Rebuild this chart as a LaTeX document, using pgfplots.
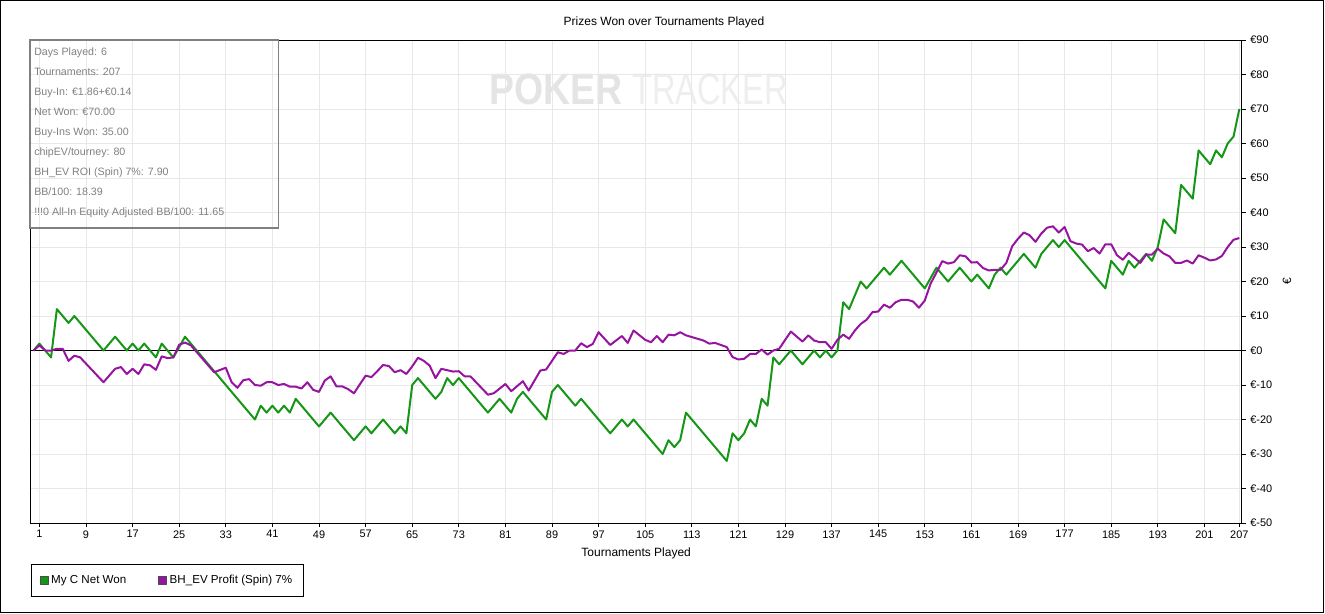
\documentclass[border=0pt]{standalone}
\usepackage{fontspec}
\setmainfont{Liberation Sans}
\usepackage{pgfplots}
\pgfplotsset{compat=1.18}
\definecolor{netgreen}{RGB}{22,150,22}
\definecolor{evpurple}{RGB}{150,20,160}
\definecolor{gridgray}{RGB}{232,232,232}
\definecolor{boxgray}{RGB}{128,128,128}
\definecolor{txtgray}{RGB}{128,128,128}
\definecolor{wmA}{RGB}{228,228,228}
\definecolor{wmB}{RGB}{238,238,238}
\begin{document}
\begin{tikzpicture}
\path[use as bounding box] (0,0) rectangle (993.75pt,-460.5pt);
\begin{scope}[x=0.75pt,y=-0.75pt]
\draw[black, line width=0.9pt] (0.6,0.6) rectangle (1323.4,612.6);
\node[font=\fontsize{9}{10}\selectfont] at (664,22.5) {Prizes Won over Tournaments Played};
\node[font=\fontsize{33}{36}\selectfont\bfseries, text=wmA, xscale=0.85, anchor=east, inner sep=0] at (623,89) {POKER};
\node[font=\fontsize{33}{36}\selectfont, text=wmB, xscale=0.74, anchor=west, inner sep=0] at (632,89) {TRACKER};
\end{scope}
\begin{axis}[
  at={(23.0pt,-392.25pt)}, anchor=south west,
  scale only axis, width=908.25pt, height=362.25pt,
  xmin=-0.5, xmax=207.4, ymin=-50, ymax=90,
  xtick={1,9,17,25,33,41,49,57,65,73,81,89,97,105,113,121,129,137,145,153,161,169,177,185,193,201,207},
  ytick={-50,-40,-30,-20,-10,0,10,20,30,40,50,60,70,80,90},
  yticklabels={€-50,€-40,€-30,€-20,€-10,€0,€10,€20,€30,€40,€50,€60,€70,€80,€90},
  /pgf/number format/assume math mode=true,
  tick align=outside, major tick length=3pt,
  xtick pos=left, ytick pos=right, yticklabel pos=right,
  grid=major, major grid style={gridgray, line width=0.75pt},
  axis line style={black, line width=0.75pt},
  tick style={black, line width=0.75pt},
  ticklabel style={font=\fontsize{8.2}{9}\selectfont},
  xticklabel style={yshift=1pt},
  xlabel={Tournaments Played}, ylabel={€},
  xlabel style={font=\fontsize{9}{10}\selectfont, at={(axis description cs:0.5,-0.062)}, anchor=center},
  ylabel style={font=\fontsize{9}{10}\selectfont, at={(axis description cs:1.0374,0.5)}, anchor=center, rotate=0},
  legend style={at={(axis description cs:0,-0.0849)}, anchor=north west, draw=black, line width=0.75pt,
    font=\fontsize{8.7}{10}\selectfont, legend columns=2, inner xsep=6.5pt, inner ysep=6pt,
    /tikz/every even column/.append style={column sep=22pt}},
  legend image code/.code={\draw[#1, line width=0.5pt, draw=black!70, fill] (0pt,-3pt) rectangle (6pt,3pt);},
  legend cell align=left,
]
\addplot[black, line width=0.75pt, forget plot] coordinates {(-0.5,0) (207.4,0)};
\addplot[netgreen, line width=1.5pt, line join=round] table {
t v
0 0
1 2
3 -2
4 12
6 8
7 10
12 0
14 4
16 0
17 2
18 0
19 2
21 -2
22 2
24 -2
26 4
38 -20
39 -16
40 -18
41 -16
42 -18
43 -16
44 -18
45 -14
49 -22
51 -18
55 -26
57 -22
58 -24
60 -20
62 -24
63 -22
64 -24
65 -10
66 -8
69 -14
70 -12
71 -8
72 -10
73 -8
78 -18
80 -14
82 -18
83 -14
84 -12
88 -20
89 -12
90 -10
93 -16
94 -14
99 -24
101 -20
102 -22
103 -20
108 -30
109 -26
110 -28
111 -26
112 -18
119 -32
120 -24
121 -26
122 -24
123 -20
124 -22
125 -14
126 -16
127 -2
128 -4
130 0
132 -4
134 0
135 -2
136 0
137 -2
138 0
139 14
140 12
142 20
143 18
146 24
147 22
149 26
153 18
155 24
157 20
159 24
161 20
162 22
164 18
165 22
166 24
167 22
170 28
172 24
173 28
175 32
176 30
177 32
184 18
185 26
187 22
188 26
189 24
190 26
191 28
192 26
193 30
194 38
196 34
197 48
199 44
200 58
202 54
203 58
204 56
205 60
206 62
207 70
};
\addlegendentry{My C Net Won}
\addplot[evpurple, line width=1.5pt, line join=round] table {
t v
0 0
1 1.5
2 0
3 0
4 0.5
5 0.5
6 -3
7 -1.5
8 -2
12 -9.2
14 -5.3
15 -4.8
16 -6.8
17 -5.3
18 -6.8
19 -4
20 -4.3
21 -5.6
22 -1.7
23 -2.2
24 -2
25 1.7
26 2.3
27 1.5
31 -6.3
33 -5
34 -9.2
35 -10.8
36 -8.6
37 -8.3
38 -10
39 -10.2
40 -9.2
41 -9.2
42 -10
43 -9.7
44 -10.5
45 -10.5
46 -11
47 -9.2
48 -11.4
49 -12
50 -8.7
51 -7.5
52 -10.4
53 -10.4
54 -11.2
55 -12.4
57 -7.3
58 -7.7
59 -6
60 -4.2
61 -4.5
62 -6.3
63 -5.7
64 -6.8
65 -4.6
66 -2.1
67 -3
68 -4.4
69 -8
70 -5.3
71 -5.7
72 -6.1
73 -6
74 -7.5
75 -7.5
78 -12.8
79 -12.4
81 -9.7
82 -11.8
84 -8.9
85 -11.6
87 -5.8
88 -5.5
90 -0.5
91 -1
92 0
93 0
94 2.1
95 1
96 1.9
97 5.3
99 1.6
101 4.2
102 2.2
103 5.8
105 3.1
106 2.4
107 4.2
108 2.4
109 4.6
110 4.4
111 5.3
112 4.4
113 3.9
114 3.4
115 2.9
116 2
117 2.2
119 1
120 -1.9
121 -2.6
122 -2.4
123 -1
124 -1
125 0.3
126 -1.2
127 0
128 0.5
130 5.5
132 2.6
133 4.4
134 2.9
135 2.4
136 2.4
137 0.5
138 3.1
139 4.6
140 3.4
141 5.8
142 7.7
143 8.9
144 11.1
145 11.3
146 13.3
147 12.4
148 14
149 14.7
150 14.7
151 14.2
152 12.4
153 14.5
154 19.4
155 22.6
156 25.9
157 25.2
158 25.6
159 27.6
160 27.3
161 25.5
162 25.6
163 23.9
164 23.2
165 23.4
166 23.4
167 25.4
168 30.2
169 32.4
170 34.2
171 33.4
172 31.5
173 33.9
174 35.6
175 36
176 34.2
177 35.8
178 31.7
179 31
180 30.7
181 28.8
182 29.7
183 28.1
184 30.8
185 30.8
186 27.6
187 26.3
188 28.3
189 26.9
190 25.4
191 27.8
192 27.8
193 29.5
194 28.1
195 27.3
196 25.4
197 25.4
198 26.1
199 25.2
200 27.6
201 26.9
202 26.1
203 26.4
204 27.4
205 30
206 32.1
207 32.6
};
\addlegendentry{BH\_EV Profit (Spin) 7\%}
\end{axis}
\begin{scope}[x=0.75pt,y=-0.75pt]
\draw[boxgray, line width=1.1pt] (30.2,40) rectangle (278.5,228);
\foreach \i/\s in {0/{Days Played: 6},1/{Tournaments: 207},2/{Buy-In: €1.86+€0.14},3/{Net Won: €70.00},4/{Buy-Ins Won: 35.00},5/{chipEV/tourney: 80},6/{BH\_EV ROI (Spin) 7\%: 7.90},7/{BB/100: 18.39},8/{!!!0 All-In Equity Adjusted BB/100: 11.65}}
  \node[anchor=base west, inner sep=0, text=txtgray, font=\fontsize{8}{9}\selectfont] at (34,{55.5+20*\i}) {\s};
\end{scope}
\end{tikzpicture}
\end{document}
